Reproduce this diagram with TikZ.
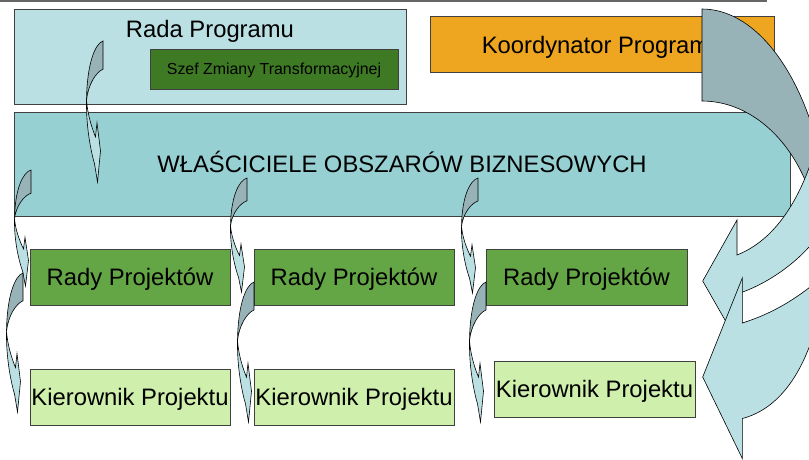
\documentclass[tikz,border=0pt]{standalone}
\usepackage{fontspec}
\setmainfont{Liberation Sans}
\definecolor{radafill}{RGB}{186,224,227}
\definecolor{szeffill}{RGB}{62,122,36}
\definecolor{orangefill}{RGB}{238,165,32}
\definecolor{wlfill}{RGB}{151,208,210}
\definecolor{radyfill}{RGB}{100,166,69}
\definecolor{kierfill}{RGB}{207,239,173}
\definecolor{arrowdark}{RGB}{151,179,183}
\definecolor{arrowlight}{RGB}{186,224,227}
\newcommand{\smallcurv}[3]{%
  \begin{scope}[shift={(#1,#2)}, x=1pt, y={(0pt,-#3pt)}]
    \filldraw[darkface] (0,0) .. controls (-8,0.02) and (-16,0.16) .. (-16.5,0.42)
      .. controls (-15,0.31) and (-7,0.22) .. (0,0.2) -- cycle;
    \filldraw[lightface] (-16.5,0.42) .. controls (-17,0.62) and (-11.5,0.8) .. (-8.5,0.87)
      -- (-5.5,1) -- (-2.5,0.78) -- (-6,0.58) -- (-7.5,0.68)
      .. controls (-11,0.62) and (-15.5,0.52) .. (-16.5,0.42) -- cycle;
  \end{scope}}
\begin{document}
\begin{tikzpicture}[x=1pt,y=-1pt,
  boxline/.style={draw=black!75, line width=0.8pt},
  box/.style={boxline, rectangle, inner sep=0pt, text height=16.9pt, text depth=0pt,
    font=\fontsize{23.8}{28}\selectfont, align=center},
  darkface/.style={fill=arrowdark, draw=black, line width=0.6pt},
  lightface/.style={fill=arrowlight, draw=black, line width=0.6pt}]
\useasboundingbox (0,0) rectangle (809,459);
% frame line at top
\draw[black!60, line width=1.2pt] (0,1) -- (766,1) -- (766,0);
% program board
\node[box, fill=radafill, minimum width=392pt, minimum height=95.5pt] (rada) at (210,56.75) {};
\node[anchor=base, inner sep=0pt, font=\fontsize{23.8}{28}\selectfont] (radatxt) at (210,37) {Rada Programu};
\node[box, fill=szeffill, minimum width=248pt, minimum height=40.3pt, text height=11.4pt,
  font=\fontsize{15.9}{19}\selectfont] (szef) at (274,69.2) {Szef Zmiany Transformacyjnej};
\node[box, fill=orangefill, minimum width=344.3pt, minimum height=56pt] (koord) at (602.2,44.7) {Koordynator Programu};
\node[box, fill=wlfill, minimum width=776pt, minimum height=104pt] (wl) at (402,164.5) {WŁAŚCICIELE OBSZARÓW BIZNESOWYCH};
% project boards
\node[box, fill=radyfill, minimum width=200pt, minimum height=56pt] (rady1) at (130,277) {Rady Projektów};
\node[box, fill=radyfill, minimum width=200pt, minimum height=56pt] (rady2) at (354,277) {Rady Projektów};
\node[box, fill=radyfill, minimum width=201pt, minimum height=56pt] (rady3) at (586.5,277) {Rady Projektów};
% project managers
\node[box, fill=kierfill, minimum width=200pt, minimum height=56pt] (kier1) at (130,397) {Kierownik Projektu};
\node[box, fill=kierfill, minimum width=200pt, minimum height=56pt] (kier2) at (354,397) {Kierownik Projektu};
\node[box, fill=kierfill, minimum width=201pt, minimum height=56pt] (kier3) at (594.5,389) {Kierownik Projektu};
% small curved arrows
\smallcurv{103}{41}{141}
\smallcurv{31}{170}{116}
\smallcurv{23}{273}{139}
\smallcurv{247}{178}{114}
\smallcurv{254}{282}{140}
\smallcurv{478}{178}{115}
\smallcurv{486}{282}{140}
% big curved arrows on the right
\begin{scope}
  \clip (0,0) rectangle (809,459);
  \filldraw[darkface] plot[domain=90:0, samples=50, variable=\t] ({702+130*cos(\t)},{259-250*sin(\t)})
    -- plot[domain=0:90, samples=50, variable=\t] ({702+119*cos(\t)},{259-158*sin(\t)}) -- cycle;
  \filldraw[lightface] (737,294) -- (737,341) -- (702.7,281) -- (737,220) -- (737,255)
    .. controls (775,240) and (800,200) .. (815,150) -- (850,150) -- (850,240) -- (815,240)
    .. controls (795,265) and (765,285) .. (737,294) -- cycle;
  \filldraw[lightface] (742.3,418.5) -- (742.3,458.5) -- (702.7,377) -- (742.3,278) -- (742.3,323)
    .. controls (768,315) and (792,302) .. (815,283) -- (850,283) -- (850,330) -- (815,330)
    .. controls (800,380) and (775,410) .. (742.3,418.5) -- cycle;
\end{scope}
\end{tikzpicture}
\end{document}
